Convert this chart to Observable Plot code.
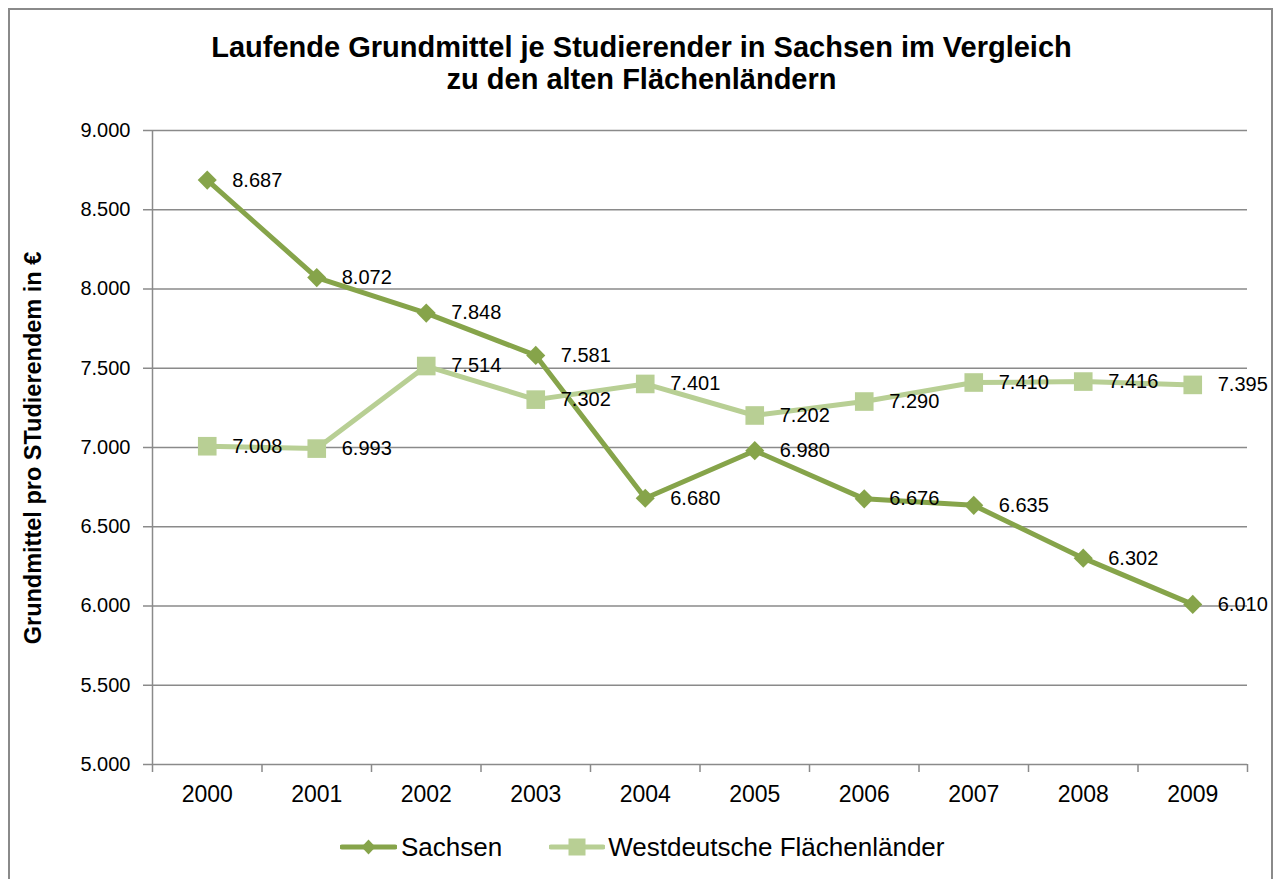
<!DOCTYPE html>
<html>
<head>
<meta charset="utf-8">
<script src="https://cdn.jsdelivr.net/npm/d3@7"></script>
<script src="https://cdn.jsdelivr.net/npm/@observablehq/plot@0.6"></script>
<style>
  html, body { margin: 0; padding: 0; background: #fff; }
  body { width: 1279px; height: 879px; overflow: hidden; position: relative; font-family: "Liberation Sans", Arial, sans-serif; }
  #frame { position: absolute; left: 8px; top: 8px; width: 1265px; height: 900px; border: 2px solid #8a8a8a; border-bottom: none; box-sizing: border-box; }
  #title { position: absolute; left: 8px; width: 1267px; top: 31px; text-align: center; font-weight: bold; font-size: 29px; line-height: 32px; color: #000; }
  #ytitle { position: absolute; left: 33px; top: 448px; transform: translate(-50%, -50%) rotate(-90deg); white-space: nowrap; font-weight: bold; font-size: 23.5px; color: #000; }
  #chart { position: absolute; left: 0; top: 0; }
  #legend { position: absolute; left: 340px; top: 832px; display: flex; align-items: center; font-size: 26px; color: #000; height: 30px; }
  #legend .item { display: flex; align-items: center; }
  #legend svg { display: block; }
</style>
</head>
<body>
<div id="frame"></div>
<div id="chart"></div>
<div id="title">Laufende Grundmittel je Studierender in Sachsen im Vergleich<br>zu den alten Flächenländern</div>
<div id="ytitle">Grundmittel pro STudierendem in €</div>
<div id="legend"></div>
<script>
const years = ["2000", "2001", "2002", "2003", "2004", "2005", "2006", "2007", "2008", "2009"];
const sachsen = [8687, 8072, 7848, 7581, 6680, 6980, 6676, 6635, 6302, 6010];
const west = [7008, 6993, 7514, 7302, 7401, 7202, 7290, 7410, 7416, 7395];
const yTicks = [5000, 5500, 6000, 6500, 7000, 7500, 8000, 8500, 9000];
const seriesNames = ["Sachsen", "Westdeutsche Flächenländer"];

const C1 = "#86A44A";
const C2 = "#B8CF94";
const GRID = "#8a8a8a";

const de = d3.formatLocale({decimal: ",", thousands: ".", grouping: [3], currency: ["", " €"]});
const fmt = de.format(",d");

const rows = years.map((y, i) => ({i, year: y, sachsen: sachsen[i], west: west[i]}));
const edges = d3.range(-0.5, years.length, 1);

const chart = Plot.plot({
  width: 1279,
  height: 879,
  marginLeft: 152,
  marginRight: 32,
  marginTop: 130,
  marginBottom: 115,
  x: {domain: [-0.5, years.length - 0.5], label: null},
  y: {domain: [5000, 9000], label: null},
  style: {fontFamily: "'Liberation Sans', Arial, sans-serif", color: "#000", background: "transparent", overflow: "visible"},
  marks: [
    Plot.gridY(yTicks, {stroke: GRID, strokeOpacity: 1, strokeWidth: 1.5}),
    Plot.ruleX([-0.5], {stroke: GRID, strokeWidth: 1.5}),
    Plot.axisY(yTicks, {tickSize: 9, tickPadding: 13, tickFormat: fmt, fontSize: 20, stroke: GRID, strokeWidth: 1.5, strokeOpacity: 1, label: null}),
    Plot.axisX(edges, {tickSize: 8, tickFormat: () => "", stroke: GRID, strokeWidth: 1.5, strokeOpacity: 1, label: null}),
    Plot.axisX(d3.range(years.length), {tickSize: 0, tickPadding: 21, tickFormat: i => years[i], fontSize: 23, label: null}),
    Plot.line(rows, {x: "i", y: "sachsen", stroke: C1, strokeWidth: 5}),
    Plot.dot(rows, {x: "i", y: "sachsen", symbol: "diamond2", r: 8.6, fill: C1, stroke: "none"}),
    Plot.line(rows, {x: "i", y: "west", stroke: C2, strokeWidth: 5}),
    Plot.dot(rows, {x: "i", y: "west", symbol: "square", r: 10.5, fill: C2, stroke: "none"}),
    Plot.text(rows, {x: "i", y: "sachsen", text: d => fmt(d.sachsen), dx: 25, textAnchor: "start", fontSize: 20, fill: "#000"}),
    Plot.text(rows, {x: "i", y: "west", text: d => fmt(d.west), dx: 25, textAnchor: "start", fontSize: 20, fill: "#000"})
  ]
});
document.getElementById("chart").appendChild(chart);

// Legend
const legend = document.getElementById("legend");
const items = [
  {name: seriesNames[0], color: C1, shape: "diamond", w: 57, gap: 4, after: 47},
  {name: seriesNames[1], color: C2, shape: "square", w: 56, gap: 3, after: 0}
];
items.forEach(it => {
  const div = document.createElement("div");
  div.className = "item";
  div.style.marginRight = it.after + "px";
  const svg = d3.create("svg").attr("width", it.w).attr("height", 30);
  svg.append("line").attr("x1", 2).attr("x2", it.w - 2).attr("y1", 15).attr("y2", 15)
    .attr("stroke", it.color).attr("stroke-width", 5).attr("stroke-linecap", "round");
  const cx = it.w / 2;
  if (it.shape === "diamond") {
    svg.append("path").attr("d", `M${cx},${15 - 7.5}L${cx + 7},15L${cx},${15 + 7.5}L${cx - 7},15Z`).attr("fill", it.color);
  } else {
    svg.append("rect").attr("x", cx - 8.5).attr("y", 6.5).attr("width", 17).attr("height", 17).attr("fill", it.color);
  }
  div.appendChild(svg.node());
  const span = document.createElement("span");
  span.textContent = it.name;
  span.style.marginLeft = it.gap + "px";
  div.appendChild(span);
  legend.appendChild(div);
});
</script>
</body>
</html>
